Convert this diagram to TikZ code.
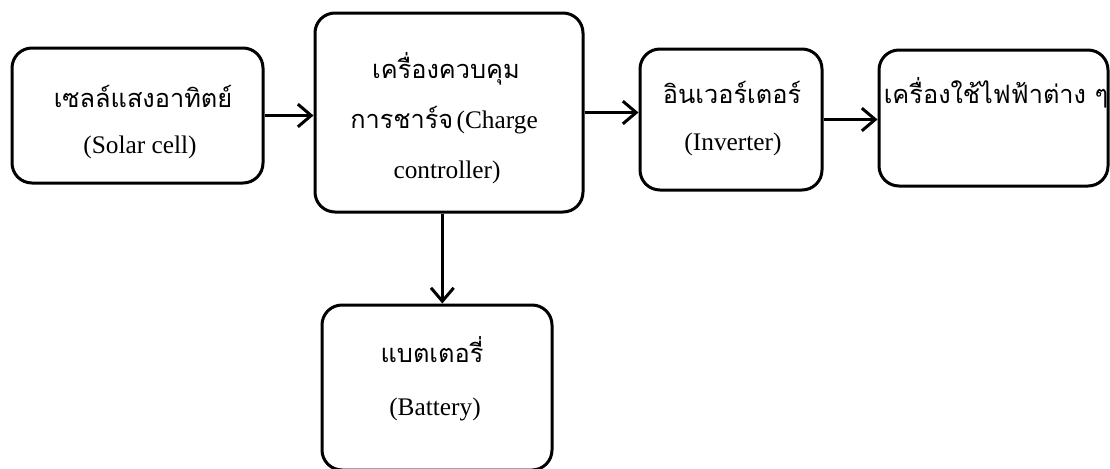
\documentclass[tikz,border=0pt]{standalone}
\usepackage{fontspec}
\setmainfont{Liberation Serif}
\newfontfamily\thaifont[Script=Thai]{Loma}
\usetikzlibrary{arrows.meta}

\begin{document}
\begin{tikzpicture}[x=0.75pt,y=-0.75pt,
  block/.style={draw, line width=2.25pt, rounded corners=15pt, inner sep=0pt},
  link/.style={line width=2.25pt, -{Straight Barb[length=10pt,width=17pt,line width=2.25pt]}},
  th/.style={anchor=base, inner sep=0pt, font=\thaifont\fontsize{19}{22}\selectfont},
  en/.style={anchor=base, inner sep=0pt, font=\fontsize{19}{22}\selectfont}]
\useasboundingbox (0,0) rectangle (1110,468);
\clip (0,0) rectangle (1110,468);

% blocks
\node[block, minimum width=188.25pt, minimum height=101.25pt] (solar) at (137.5,115.5) {};
\node[block, minimum width=201pt, minimum height=149.25pt] (ctrl) at (449,112.5) {};
\node[block, minimum width=136.5pt, minimum height=105.75pt] (inv) at (731,119.5) {};
\node[block, minimum width=171.75pt, minimum height=102pt] (load) at (993.5,118) {};
\node[block, minimum width=172.5pt, minimum height=123.75pt] (bat) at (437,387.5) {};

% labels
\node[th] (solarTh) at (143,107) {เซลล์แสงอาทิตย์};
\node[en] (solarEn) at (140,153) {(Solar cell)};
\node[th] (ctrlTh) at (446,78) {เครื่องควบคุม};
\node[anchor=base, inner sep=0pt] (ctrlMix) at (444,128) {{\thaifont\fontsize{19}{22}\selectfont การชาร์จ} {\fontsize{19}{22}\selectfont(Charge}};
\node[en] (ctrlEn) at (447,178) {controller)};
\node[th] (invTh) at (732,103) {อินเวอร์เตอร์};
\node[en] (invEn) at (733,150) {(Inverter)};
\node[th] (loadTh) at (996,103) {เครื่องใช้ไฟฟ้าต่าง ๆ};
\node[th] (batTh) at (432,362) {แบตเตอรี่};
\node[en] (batEn) at (435,415) {(Battery)};

% connectors
\draw[link] (solar.east) -- (solar.east -| ctrl.west);
\draw[link] (ctrl.east) -- (ctrl.east -| inv.west);
\draw[link] (inv.east) -- (inv.east -| load.west);
\draw[link] ([xshift=-5pt]ctrl.south) -- ([xshift=-5pt]ctrl.south |- bat.north);
\end{tikzpicture}
\end{document}
